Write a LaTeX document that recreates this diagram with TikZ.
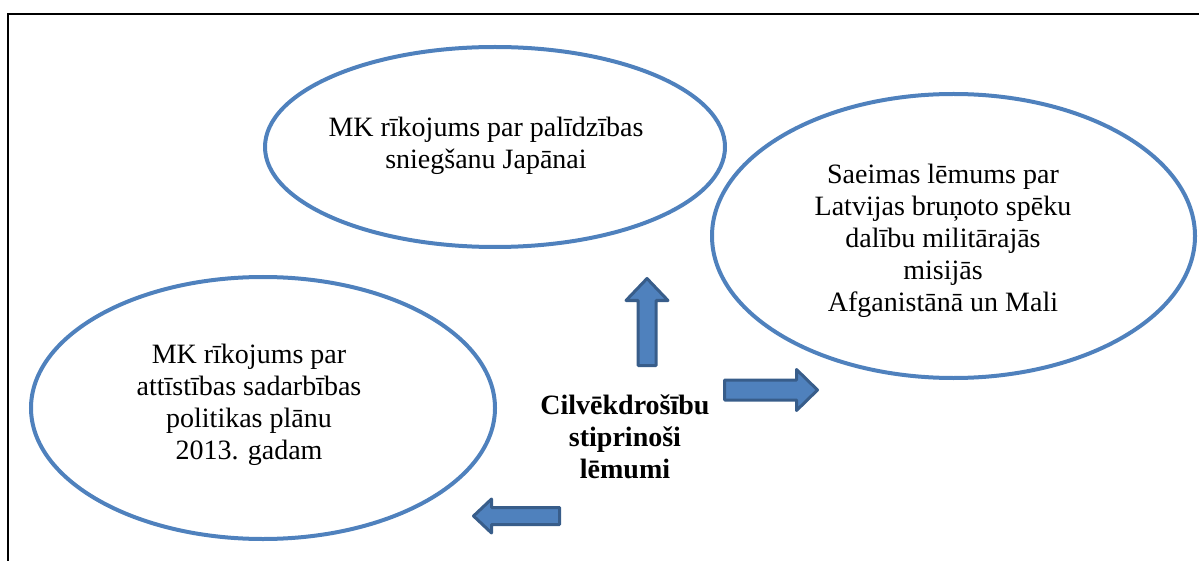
\documentclass[tikz,border=0pt]{standalone}
\usepackage{fontspec}
\setmainfont{Liberation Serif}
\usetikzlibrary{shapes.geometric}
\definecolor{Bubble}{HTML}{4F81BD}
\definecolor{ArrFill}{HTML}{4F81BD}
\definecolor{ArrLine}{HTML}{385D8A}

\begin{document}
\begin{tikzpicture}[x=1pt,y=-1pt,
    bubble/.style={draw=Bubble,line width=4pt,ellipse,inner sep=0pt},
    txt/.style={align=center,font=\fontsize{28}{32}\selectfont,inner sep=0pt},
    blockarr/.style={draw=ArrLine,fill=ArrFill,line width=3pt,line join=round}]
  \useasboundingbox (0,0) rectangle (1199,561);
  \draw[line width=2pt] (8,561) -- (8,14) -- (1199,14);
  % decisions
  \node[bubble,minimum width=460pt,minimum height=200pt] (japan) at (495,147) {};
  \node[bubble,minimum width=483pt,minimum height=284pt] (saeima) at (953.5,236) {};
  \node[bubble,minimum width=464pt,minimum height=262pt] (plan) at (263,408) {};
  \node[txt] (japanTxt) at (486,146) {MK rīkojums par palīdzības\\sniegšanu Japānai};
  \node[txt] (saeimaTxt) at (943,241) {Saeimas lēmums par\\Latvijas bruņoto spēku\\dalību militārajās\\misijās\\Afganistānā un Mali};
  \node[txt] (planTxt) at (249,405) {MK rīkojums par\\attīstības sadarbības\\politikas plānu\\2013. gadam};
  \node[txt,font=\bfseries\fontsize{28}{32}\selectfont] (core) at (625,437) {Cilvēkdrošību\\stiprinoši\\lēmumi};
  % block arrows
  \foreach \tx/\ty/\ang/\len/\sw/\hw/\hl in {647/278.5/90/87/9/21/22, 817.5/390/0/93/10/20.5/21, 473.5/516/180/86/8.5/17/18}{
    \begin{scope}[shift={(\tx,\ty)},rotate=\ang]
      \draw[blockarr] (0,0) -- (-\hl,\hw) -- (-\hl,\sw) -- (-\len,\sw) -- (-\len,-\sw) -- (-\hl,-\sw) -- (-\hl,-\hw) -- cycle;
    \end{scope}}
\end{tikzpicture}
\end{document}
